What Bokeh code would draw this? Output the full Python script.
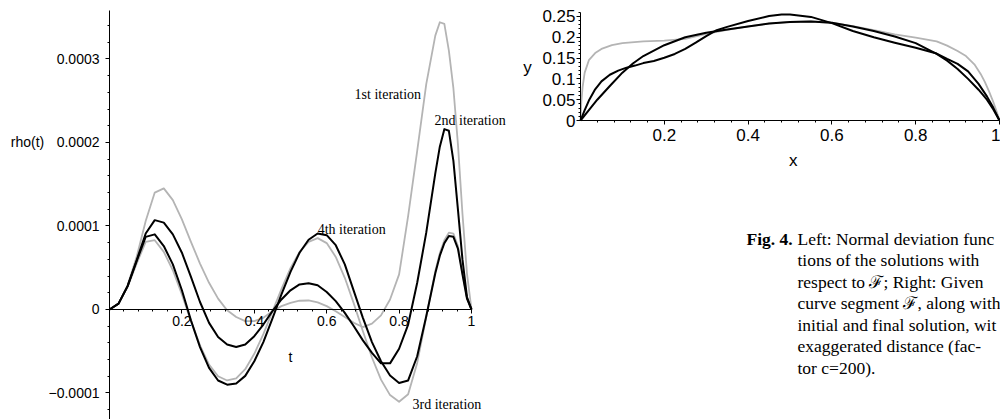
from bokeh.plotting import figure
from bokeh.models import (Range1d, FixedTicker, SingleIntervalTicker,
                          CustomJSTickFormatter, Label, ColumnDataSource)
from bokeh.layouts import row, column
from bokeh.embed import file_html
from bokeh.resources import INLINE

# ---------------- data: left plot (rho(t), values in units of 1e-5) ----------------
T = [0, 0.025, 0.05, 0.075, 0.1, 0.125, 0.15, 0.175, 0.2, 0.225, 0.25, 0.275, 0.3,
     0.325, 0.35, 0.375, 0.4, 0.425, 0.45, 0.475, 0.5, 0.525, 0.55, 0.575, 0.6,
     0.625, 0.65, 0.675, 0.7, 0.725, 0.75, 0.775, 0.8, 0.825, 0.85, 0.875, 0.9,
     0.9125, 0.925, 0.9375, 0.95, 0.9625, 0.975, 0.9875, 1.0]
RHO_1ST = [0, 0.7, 2.9, 6.3, 10.6, 14.0, 14.5, 13.1, 10.8, 8.1, 5.5, 3.2, 1.3,
           -0.1, -0.9, -1.4, -1.4, -1.0, -0.2, 0.4, 0.8, 1.05, 1.08, 0.85, 0.4,
           -0.2, -0.9, -1.6, -2.1, -1.7, -0.7, 1.2, 4.2, 11.2, 19.0, 27.0, 32.8,
           34.4, 34.2, 31.0, 26.5, 19.8, 11.5, 4.3, 0]
RHO_2ND = [0, 0.7, 2.8, 5.9, 9.1, 10.7, 10.4, 9.0, 6.8, 3.9, 0.9, -1.6, -3.3,
           -4.2, -4.5, -4.2, -3.2, -1.8, -0.2, 1.2, 2.3, 3.0, 3.15, 2.9, 2.1,
           1.0, -0.4, -2.0, -3.7, -5.2, -6.45, -6.45, -4.7, -1.8, 3.2, 9.2, 16.3,
           19.5, 21.6, 21.4, 17.8, 12.0, 6.0, 1.5, 0]
RHO_3RD = [0, 0.7, 2.7, 5.5, 8.1, 8.3, 6.9, 4.7, 1.8, -1.4, -4.3, -6.6, -8.0,
           -8.5, -8.25, -7.15, -5.3, -2.95, -0.25, 2.45, 4.95, 6.9, 8.1, 8.55, 7.95,
           6.3, 3.8, 0.7, -2.6, -5.75, -8.4, -10.25, -11.05, -10.15, -6.4, -0.9, 4.6,
           6.75, 8.3, 9.2, 9.1, 7.6, 4.4, 1.4, 0]
RHO_4TH = [0, 0.7, 2.8, 5.8, 8.7, 9.0, 7.6, 5.4, 2.3, -1.3, -4.5, -7.0, -8.5,
           -9.0, -8.85, -7.95, -6.2, -3.9, -1.1, 1.8, 4.5, 6.8, 8.35, 9.1, 8.9,
           7.7, 5.4, 2.2, -1.0, -3.9, -6.2, -7.9, -8.8, -8.5, -5.6, -0.8, 4.35,
           6.45, 7.95, 8.8, 8.7, 7.3, 4.2, 1.3, 0]
RHO_UNIT = 1e-5

ITER_NAMES = ["1st iteration", "2nd iteration", "3rd iteration", "4th iteration"]

# ---------------- data: right plot ----------------
F_X = [0, 0.002, 0.005, 0.01, 0.02, 0.035, 0.05, 0.075, 0.1, 0.15, 0.2, 0.25, 0.3,
       0.35, 0.4, 0.45, 0.5, 0.55, 0.6, 0.65, 0.7, 0.75, 0.8, 0.85, 0.875, 0.9,
       0.92, 0.94, 0.955, 0.965, 0.975, 0.985, 0.993, 1.0]
F_Y = [0, 0.045, 0.08, 0.115, 0.145, 0.162, 0.172, 0.181, 0.186, 0.19, 0.192, 0.196,
       0.208, 0.218, 0.226, 0.233, 0.237, 0.238, 0.235, 0.227, 0.217, 0.207, 0.199,
       0.19, 0.18, 0.167, 0.155, 0.135, 0.112, 0.093, 0.07, 0.045, 0.022, 0]
INIT_X = [0, 0.02, 0.04, 0.07, 0.1, 0.125, 0.15, 0.2, 0.25, 0.3, 0.35, 0.4, 0.45,
          0.5, 0.55, 0.6, 0.65, 0.7, 0.75, 0.8, 0.85, 0.875, 0.9, 0.925, 0.95,
          0.97, 0.985, 1.0]
INIT_Y = [0, 0.025, 0.05, 0.083, 0.115, 0.137, 0.155, 0.181, 0.2, 0.211, 0.219,
          0.226, 0.233, 0.237, 0.238, 0.235, 0.226, 0.215, 0.202, 0.186, 0.16,
          0.144, 0.124, 0.1, 0.074, 0.05, 0.027, 0]
FINAL_X = [0, 0.01, 0.02, 0.035, 0.05, 0.07, 0.09, 0.11, 0.13, 0.15, 0.175, 0.2,
           0.225, 0.25, 0.275, 0.3, 0.325, 0.35, 0.4, 0.45, 0.48, 0.5, 0.55, 0.6,
           0.65, 0.7, 0.75, 0.8, 0.85, 0.875, 0.9, 0.925, 0.95, 0.97, 0.985, 1.0]
FINAL_Y = [0, 0.025, 0.048, 0.075, 0.094, 0.11, 0.12, 0.127, 0.132, 0.138, 0.143,
           0.151, 0.16, 0.172, 0.187, 0.203, 0.217, 0.225, 0.239, 0.251, 0.255,
           0.255, 0.249, 0.234, 0.215, 0.2, 0.187, 0.175, 0.161, 0.148, 0.136,
           0.118, 0.088, 0.058, 0.031, 0]

X_MAJOR = [0.2, 0.4, 0.6, 0.8, 1.0]
X_MINOR = [round(0.04 * i, 2) for i in range(1, 25) if i % 5 != 0]

CAPTION_BOLD = "Fig. 4."
CAPTION_LINES = [
    "Left: Normal deviation func",
    "tions of the solutions with",
    "respect to \u2131; Right: Given",
    "curve segment \u2131, along with",
    "initial and final solution, wit",
    "exaggerated distance (fac-",
    "tor c=200).",
]

GRAY = "#b4b4b4"
BLACK = "#000000"
SANS = "Liberation Sans"
SERIF = "Liberation Serif"


def style_axis(ax, size):
    ax.axis_line_color = "black"
    ax.axis_line_width = 1
    ax.major_tick_line_color = "black"
    ax.minor_tick_line_color = "black"
    ax.major_tick_in = 0
    ax.major_tick_out = 4
    ax.minor_tick_in = 0
    ax.minor_tick_out = 2
    ax.major_label_text_font = SANS
    ax.major_label_text_font_size = size
    ax.major_label_text_color = "black"


def bare(p):
    p.outline_line_color = None
    p.grid.visible = False
    p.background_fill_color = "white"
    p.border_fill_color = "white"


# ---------------- left figure (frame = whole figure, axes through the origin) ----------------
src = ColumnDataSource(dict(
    t=T,
    r1=[v * RHO_UNIT for v in RHO_1ST],
    r2=[v * RHO_UNIT for v in RHO_2ND],
    r3=[v * RHO_UNIT for v in RHO_3RD],
    r4=[v * RHO_UNIT for v in RHO_4TH],
))

p1 = figure(width=520, height=419,
            x_range=Range1d(-0.30110, 1.13536), y_range=Range1d(-1.3174e-4, 3.7006e-4),
            output_backend="svg", toolbar_location=None, min_border=0)
bare(p1)

p1.xaxis.fixed_location = 0
p1.xaxis.bounds = (0, 1)
p1.xaxis.ticker = FixedTicker(ticks=X_MAJOR, minor_ticks=X_MINOR)
p1.xaxis.formatter = CustomJSTickFormatter(code="return String(Math.round(tick*10)/10);")
p1.yaxis.fixed_location = 0
p1.yaxis.bounds = (-1.3174e-4, 3.58e-4)
p1.yaxis.ticker = SingleIntervalTicker(interval=1e-4, num_minor_ticks=5)
p1.yaxis.formatter = CustomJSTickFormatter(code="""
const v = Math.round(tick * 1e4);
if (v === 0) return "0";
return (v < 0 ? "\u2212" : "") + "0.000" + Math.abs(v);
""")
style_axis(p1.xaxis[0], "14px")
style_axis(p1.yaxis[0], "14px")
p1.xaxis.major_label_standoff = 3
p1.yaxis.major_label_standoff = 6

p1.line("t", "r1", source=src, color=GRAY, line_width=1.8, line_join="round")
p1.line("t", "r3", source=src, color=GRAY, line_width=1.8, line_join="round")
p1.line("t", "r2", source=src, color=BLACK, line_width=2, line_join="round")
p1.line("t", "r4", source=src, color=BLACK, line_width=2, line_join="round")

iter_pos = [(0.677, 2.575e-4), (0.898, 2.263e-4), (0.837, -1.138e-4), (0.575, 0.958e-4)]
for name, (lx, ly) in zip(ITER_NAMES, iter_pos):
    p1.add_layout(Label(x=lx, y=ly, text=name, text_font=SERIF, text_font_size="14px",
                        text_align="left", text_baseline="alphabetic", text_color="black"))
p1.add_layout(Label(x=-0.2265, y=2e-4, text="rho(t)", text_font=SANS, text_font_size="14px",
                    text_align="center", text_baseline="middle", text_color="black"))
p1.add_layout(Label(x=0.5, y=-0.563e-4, text="t", text_font=SANS, text_font_size="14px",
                    text_align="center", text_baseline="middle", text_color="black"))

# ---------------- right figure ----------------
p2 = figure(width=480, height=170,
            x_range=Range1d(-0.14320, 1.00239), y_range=Range1d(-0.12019, 0.28846),
            output_backend="svg", toolbar_location=None, min_border=0)
bare(p2)
p2.xaxis.fixed_location = 0
p2.xaxis.bounds = (0, 1)
p2.xaxis.ticker = FixedTicker(ticks=X_MAJOR, minor_ticks=X_MINOR)
p2.xaxis.formatter = CustomJSTickFormatter(code="return String(Math.round(tick*10)/10);")
p2.yaxis.fixed_location = 0
p2.yaxis.bounds = (0, 0.2604)
p2.yaxis.ticker = SingleIntervalTicker(interval=0.05, num_minor_ticks=5)
p2.yaxis.formatter = CustomJSTickFormatter(code="return String(Math.round(tick*100)/100);")
style_axis(p2.xaxis[0], "17px")
style_axis(p2.yaxis[0], "17px")
p2.xaxis.major_label_standoff = 4
p2.yaxis.major_label_standoff = 1

p2.line(F_X, F_Y, color=GRAY, line_width=1.8, line_join="round")
p2.line(INIT_X, INIT_Y, color=BLACK, line_width=2, line_join="round")
p2.line(FINAL_X, FINAL_Y, color=BLACK, line_width=2, line_join="round")

p2.add_layout(Label(x=0.508, y=-0.0962, text="x", text_font=SANS, text_font_size="17px",
                    text_align="center", text_baseline="middle", text_color="black"))
p2.add_layout(Label(x=-0.1265, y=0.127, text="y", text_font=SANS, text_font_size="17px",
                    text_align="center", text_baseline="middle", text_color="black"))

# ---------------- caption ----------------
p3 = figure(width=480, height=249, x_range=Range1d(0, 480), y_range=Range1d(0, 249),
            output_backend="svg", toolbar_location=None, min_border=0)
bare(p3)
p3.axis.visible = False
indent = 277
base = 181
p3.add_layout(Label(x=226, y=base, text=CAPTION_BOLD, text_font=SERIF, text_font_size="17.5px",
                    text_font_style="bold", text_align="left", text_baseline="alphabetic",
                    text_color="black"))
for i, line in enumerate(CAPTION_LINES):
    p3.add_layout(Label(x=indent, y=base - 21.5 * i, text=line, text_font=SERIF,
                        text_font_size="17.5px", text_align="left",
                        text_baseline="alphabetic", text_color="black"))

layout = row(p1, column(p2, p3))
open("out.html", "w").write(file_html(layout, INLINE))
